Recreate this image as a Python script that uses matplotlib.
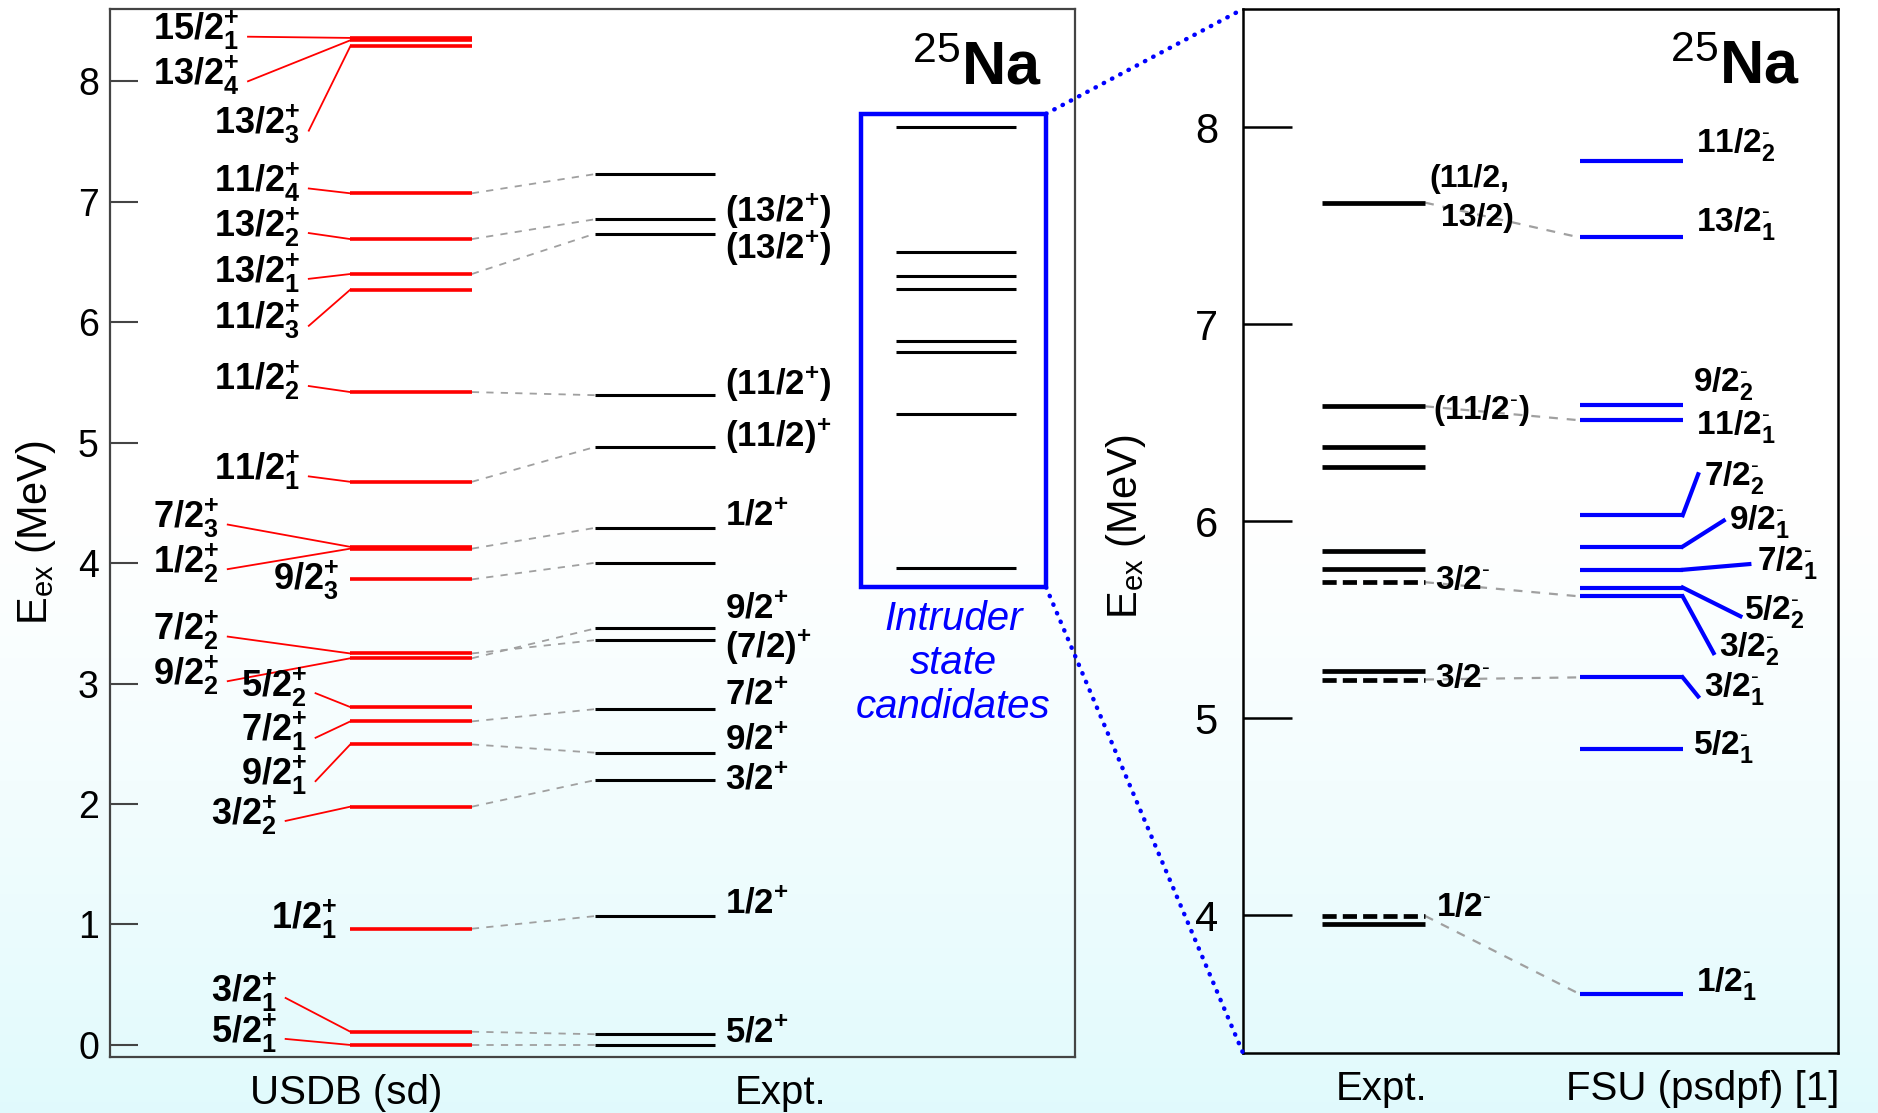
import numpy as np
import matplotlib.pyplot as plt
from matplotlib.patches import Rectangle, ConnectionPatch

plt.rcParams['font.family'] = ['Liberation Sans', 'DejaVu Sans']
plt.rcParams['mathtext.fontset'] = 'custom'
plt.rcParams['mathtext.rm'] = 'Liberation Sans'
plt.rcParams['mathtext.it'] = 'Liberation Sans:italic'
plt.rcParams['mathtext.bf'] = 'Liberation Sans:bold'

# --- 25Na positive parity: USDB (sd) shell model, MeV ---
usdb_spin = ['15/2^{+}_{1}', '13/2^{+}_{4}', '13/2^{+}_{3}', '11/2^{+}_{4}', '13/2^{+}_{2}',
             '13/2^{+}_{1}', '11/2^{+}_{3}', '11/2^{+}_{2}', '11/2^{+}_{1}', '7/2^{+}_{3}',
             '1/2^{+}_{2}', '9/2^{+}_{3}', '7/2^{+}_{2}', '9/2^{+}_{2}', '5/2^{+}_{2}',
             '7/2^{+}_{1}', '9/2^{+}_{1}', '3/2^{+}_{2}', '1/2^{+}_{1}', '3/2^{+}_{1}', '5/2^{+}_{1}']
usdb_e = [8.36, 8.34, 8.29, 7.07, 6.69, 6.40, 6.27, 5.42, 4.675, 4.135, 4.12, 3.865,
          3.25, 3.21, 2.805, 2.686, 2.495, 1.978, 0.965, 0.11, 0.0]
# label placement (text right edge, text centre) and whether a red tie is drawn
usdb_lab_x = [1.34, 1.34, 1.97, 1.97, 1.97, 1.97, 1.97, 1.97, 1.97, 1.13, 1.13, 2.37,
              1.13, 1.13, 2.04, 2.04, 2.04, 1.73, 2.35, 1.73, 1.73]
usdb_lab_y = [8.42, 8.05, 7.64, 7.16, 6.79, 6.41, 6.02, 5.52, 4.77, 4.37, 4.00, 3.86,
              3.44, 3.07, 2.97, 2.60, 2.24, 1.91, 1.04, 0.44, 0.10]
usdb_tied = [True] * 11 + [False] + [True] * 6 + [False, True, True]

# --- experiment ---
expt_e = [7.23, 6.855, 6.736, 5.394, 4.965, 4.293, 4.003, 3.458, 3.361, 2.788, 2.426,
          2.199, 1.07, 0.089, 0.0]
expt_spin = ['', '(13/2^{+})', '(13/2^{+})', '(11/2^{+})', '(11/2)^{+}', '1/2^{+}', '',
             '9/2^{+}', '(7/2)^{+}', '7/2^{+}', '9/2^{+}', '3/2^{+}', '1/2^{+}', '', '5/2^{+}']
expt_lab_y = [0, 6.93, 6.62, 5.49, 5.06, 4.40, 0, 3.63, 3.31, 2.91, 2.54, 2.21, 1.18, 0, 0.11]

# USDB state -> experimental level (grey guides)
usdb_link = [3, 4, 5, 7, 8, 10, 11, 12, 13, 15, 16, 17, 18, 19, 20]
expt_link = [0, 1, 2, 3, 4, 5, 6, 8, 7, 9, 10, 11, 12, 13, 14]

intruder_e = [7.62, 6.58, 6.385, 6.277, 5.845, 5.754, 5.237, 3.956]

# --- negative-parity candidates vs FSU (psdpf) ---
neg_e = [7.617, 6.583, 6.378, 6.274, 5.846, 5.755, 5.69, 5.238, 5.196, 3.996, 3.954]
neg_tentative = [False] * 6 + [True, False, True, True, False]
fsu_spin = ['11/2^{-}_{2}', '13/2^{-}_{1}', '9/2^{-}_{2}', '11/2^{-}_{1}', '7/2^{-}_{2}',
            '9/2^{-}_{1}', '7/2^{-}_{1}', '5/2^{-}_{2}', '3/2^{-}_{2}', '3/2^{-}_{1}',
            '5/2^{-}_{1}', '1/2^{-}_{1}']
fsu_e = [7.83, 7.44, 6.59, 6.512, 6.03, 5.871, 5.753, 5.663, 5.618, 5.207, 4.841, 3.599]
fsu_lab_x = [7.61, 7.61, 7.57, 7.61, 7.74, 8.17, 8.64, 8.42, 8.00, 7.74, 7.57, 7.61]
fsu_lab_y = [7.91, 7.51, 6.70, 6.48, 6.22, 6.00, 5.79, 5.54, 5.356, 5.15, 4.855, 3.655]
# kinked leaders running out to crowded labels
fsu_bend = {4: (7.65, 6.238), 5: (8.08, 6.003), 6: (8.51, 5.782),
            7: (8.36, 5.517), 8: (7.91, 5.33), 9: (7.65, 5.11)}
neg_link = [0, 1, 6, 8, 9]
fsu_link = [1, 3, 8, 9, 11]
neg_spin = ['(11/2,', '13/2)', '(11/2^{-})', '3/2^{-}', '3/2^{-}', '1/2^{-}']
neg_lab_x = [3.14, 3.33, 3.20, 3.22, 3.22, 3.24]
neg_lab_y = [7.735, 7.54, 6.56, 5.70, 5.20, 4.04]


def spin_tex(s):
    # short superscript dash for negative parity, as in the level tables
    return r'$\mathbf{' + s.replace('^{-}', r'^{\text{-}}') + '}$'


W, H = 1878, 1113
fig = plt.figure(figsize=(W / 100, H / 100), dpi=100)

# white-to-cyan backdrop
bg = fig.add_axes([0, 0, 1, 1], zorder=-10)
r = np.linspace(0, 1, 600)
t = np.clip((r - 0.45) / 0.55, 0, 1) ** 1.2
c0, c1 = np.array([1.0, 1.0, 1.0]), np.array([0.88, 0.98, 0.99])
grad = c0[None, :] * (1 - t[:, None]) + c1[None, :] * t[:, None]
bg.imshow(grad[:, None, :], aspect='auto', extent=[0, 1, 0, 1])
bg.axis('off')

# ---------------- left panel ----------------
axL = fig.add_axes([110 / W, 1 - 1057 / H, 965 / W, 1048 / H])
axL.set_facecolor('none')
axL.set_xlim(0, 10)
axL.set_ylim(-0.1, 8.6)

USDB_X = (2.49, 3.75)
EXPT_X = (5.03, 6.27)
INTR_X = (8.14, 9.39)
BOX = (7.78, 9.70, 3.80, 7.73)

axL.hlines(usdb_e, *USDB_X, color='red', lw=2.6, zorder=3)
for i, s in enumerate(usdb_spin):
    axL.text(usdb_lab_x[i], usdb_lab_y[i], spin_tex(s), ha='right', va='center', fontsize=26)
    if usdb_tied[i]:
        axL.plot([usdb_lab_x[i] + 0.09, USDB_X[0]], [usdb_lab_y[i] - 0.05, usdb_e[i]],
                 color='red', lw=1.3)

axL.hlines(expt_e, *EXPT_X, color='black', lw=2.2, zorder=3)
for i, s in enumerate(expt_spin):
    if s:
        axL.text(6.37, expt_lab_y[i], spin_tex(s), ha='left', va='center', fontsize=25)

for a, b in zip(usdb_link, expt_link):
    axL.plot([USDB_X[1], EXPT_X[0]], [usdb_e[a], expt_e[b]], color='#a0a0a0', lw=1.3,
             dashes=(4, 4))

axL.hlines(intruder_e, *INTR_X, color='black', lw=2.2, zorder=3)
axL.add_patch(Rectangle((BOX[0], BOX[2]), BOX[1] - BOX[0], BOX[3] - BOX[2], fill=False,
                        edgecolor='blue', lw=3.2, zorder=4))
axL.text((BOX[0] + BOX[1]) / 2, 3.17, 'Intruder\nstate\ncandidates', color='blue',
         style='italic', fontsize=29, ha='center', va='center', linespacing=1.2)
axL.text(9.66, 8.10, r'$^{\mathrm{25}}\mathbf{Na}$', ha='right', va='center', fontsize=44)

axL.set_yticks(range(0, 9))
axL.tick_params(axis='y', direction='in', length=20, width=1.5, labelsize=27, pad=8,
                color='#444444')
axL.set_xticks([2.45, 6.95], ['USDB (sd)', 'Expt.'])
axL.tick_params(axis='x', length=0, labelsize=29, pad=12)
for sp in axL.spines.values():
    sp.set_linewidth(1.6)
    sp.set_color('#444444')

# ---------------- right panel ----------------
axR = fig.add_axes([1243 / W, 1 - 1053 / H, 595 / W, 1044 / H])
axR.set_facecolor('none')
axR.set_xlim(0, 10)
axR.set_ylim(3.3, 8.6)

NEXP_X = (1.32, 3.06)
FSU_X = (5.66, 7.39)

for e, tent in zip(neg_e, neg_tentative):
    axR.plot(NEXP_X, [e, e], color='black', lw=3.4, solid_capstyle='butt',
             dashes=(3, 1.3) if tent else (None, None), zorder=3)
axR.hlines(fsu_e, *FSU_X, color='blue', lw=3.0, zorder=3)
for i, (bx, by) in fsu_bend.items():
    axR.plot([FSU_X[1], bx], [fsu_e[i], by], color='blue', lw=3.0, zorder=3)
for i, s in enumerate(fsu_spin):
    axR.text(fsu_lab_x[i], fsu_lab_y[i], spin_tex(s), ha='left', va='center', fontsize=24)

for a, b in zip(neg_link, fsu_link):
    axR.plot([NEXP_X[1], FSU_X[0]], [neg_e[a], fsu_e[b]], color='#a0a0a0', lw=1.6,
             dashes=(4, 4))
for s, x, y in zip(neg_spin, neg_lab_x, neg_lab_y):
    if '^' in s:
        axR.text(x, y, spin_tex(s), ha='left', va='center', fontsize=24)
    else:
        axR.text(x, y, s, ha='left', va='center', fontsize=23, weight='bold')

axR.text(9.36, 8.30, r'$^{\mathrm{25}}\mathbf{Na}$', ha='right', va='center', fontsize=44)

axR.set_yticks(range(4, 9))
axR.tick_params(axis='y', direction='in', length=35, width=1.8, labelsize=30, pad=18)
axR.set_xticks([2.33, 7.72], ['Expt.', 'FSU (psdpf) [1]'])
axR.tick_params(axis='x', length=0, labelsize=29, pad=12)
for sp in axR.spines.values():
    sp.set_linewidth(1.8)

# zoom guides from the intruder box to the right panel
for yb, ya in [(BOX[3], 1), (BOX[2], 0)]:
    fig.add_artist(ConnectionPatch(xyA=(BOX[1], yb), coordsA=axL.transData,
                                   xyB=(0, ya), coordsB=axR.transAxes, color='blue',
                                   lw=3.2, linestyle=(0, (0.1, 2.0)), capstyle='round',
                                   zorder=5))

fig.text(36 / W, 1 - 533 / H, r'E$_{\mathrm{ex}}$ (MeV)', rotation=90, ha='center',
         va='center', fontsize=30)
fig.text(1126 / W, 1 - 527 / H, r'E$_{\mathrm{ex}}$ (MeV)', rotation=90, ha='center',
         va='center', fontsize=30)

fig.savefig('out.png', dpi=100)
